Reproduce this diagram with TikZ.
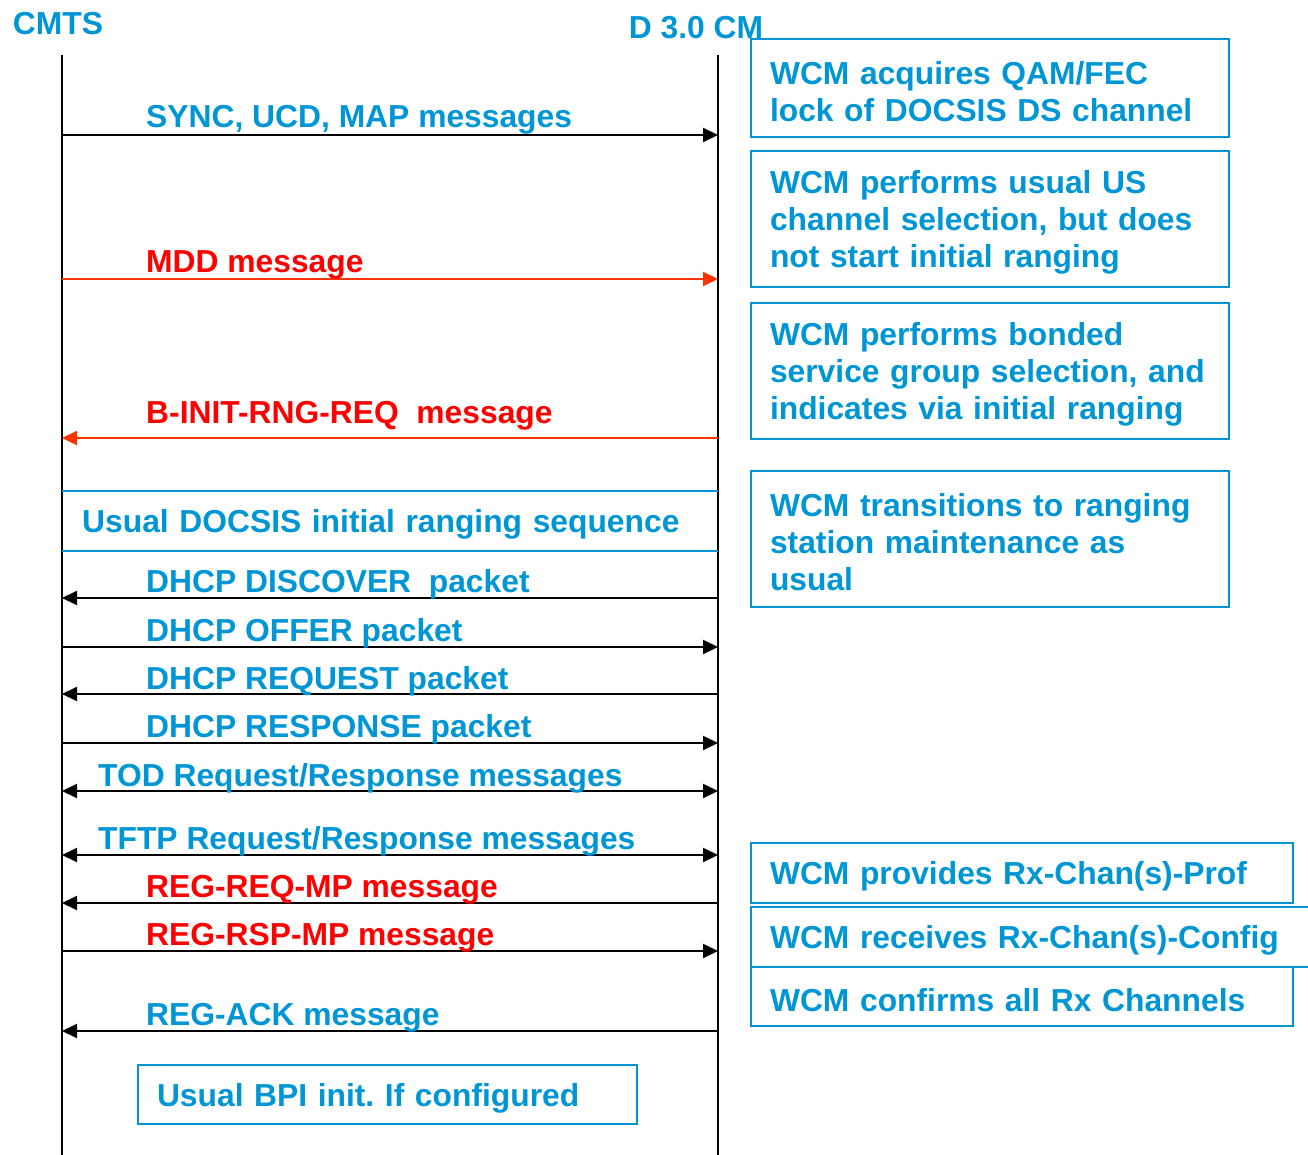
\documentclass[tikz,border=0pt]{standalone}
\usepackage{fontspec}
\setmainfont{Liberation Sans}
\usetikzlibrary{arrows.meta}
\definecolor{docblue}{RGB}{0,150,214}
\definecolor{docred}{RGB}{255,0,0}
\definecolor{arrred}{RGB}{255,51,0}
\frenchspacing
\tikzset{
  lbl/.style = {font=\bfseries\fontsize{31.8}{37}\selectfont, inner sep=0pt},
  msg_b/.style = {lbl, text=docblue, anchor=base west},% message label, blue
  msg_r/.style = {lbl, text=docred, anchor=base west},% message label, red
  life/.style = {line width=2.4pt, black},% lifeline
  wire/.style = {line width=2pt, black},
  boxtext/.style = {lbl, text=docblue, align=left, inner xsep=19pt,
    execute at begin node={\rule{0pt}{30pt}}},
  note/.style = {boxtext, draw=docblue, line width=2pt, text width=#1, anchor=west}% box at the CM side
}

\begin{document}
\begin{tikzpicture}[x=1pt, y=-1pt, >={Triangle[length=15pt,width=14pt]}]
    \useasboundingbox (0,0) rectangle (1308,1155);
    % heads and lifelines
    \node [lbl, text=docblue] (cmts) at (58,24) {CMTS};
    \node [lbl, text=docblue] (cm) at (696,28) {D 3.0 CM};
    \coordinate (cmts-top) at (62,55);
    \coordinate (cmts-bot) at (62,1155);
    \coordinate (cm-top) at (718,55);
    \coordinate (cm-bot) at (718,1155);
    \draw [life] (cmts-top) -- (cmts-bot);
    \draw [life] (cm-top) -- (cm-bot);
    % end points of the messages
    \foreach \n/\y in {sync/135, mdd/279, binit/438, disc/598, offer/647, req/694,
        resp/743, tod/791, tftp/855, regreq/903, regrsp/951, regack/1031} {
      \coordinate (\n-c) at (62,\y);
      \coordinate (\n-m) at (718,\y);
    }
    \draw [->, wire] (sync-c) -- (sync-m);
    \draw [->, wire, arrred] (mdd-c) -- (mdd-m);
    \draw [->, wire, arrred] (binit-m) -- (binit-c);
    \draw [->, wire] (disc-m) -- (disc-c);
    \draw [->, wire] (offer-c) -- (offer-m);
    \draw [->, wire] (req-m) -- (req-c);
    \draw [->, wire] (resp-c) -- (resp-m);
    \draw [<->, wire] (tod-c) -- (tod-m);
    \draw [<->, wire] (tftp-c) -- (tftp-m);
    \draw [->, wire] (regreq-m) -- (regreq-c);
    \draw [->, wire] (regrsp-c) -- (regrsp-m);
    \draw [->, wire] (regack-m) -- (regack-c);
    % message labels
    \node [msg_b] (sync-lbl) at (146,128) {SYNC, UCD, MAP messages};
    \node [msg_r] (mdd-lbl) at (146,273) {MDD message};
    \node [msg_r] (binit-lbl) at (146,423) {B-INIT-RNG-REQ\ \ message};
    \node [msg_b] (disc-lbl) at (146,592) {DHCP DISCOVER\ \ packet};
    \node [msg_b] (offer-lbl) at (146,641) {DHCP OFFER packet};
    \node [msg_b] (req-lbl) at (146,689) {DHCP REQUEST packet};
    \node [msg_b] (resp-lbl) at (146,737) {DHCP RESPONSE packet};
    \node [msg_b] (tod-lbl) at (98,786) {TOD Request/Response messages};
    \node [msg_b] (tftp-lbl) at (98,849) {TFTP Request/Response messages};
    \node [msg_r] (regreq-lbl) at (146,897) {REG-REQ-MP message};
    \node [msg_r] (regrsp-lbl) at (146,945) {REG-RSP-MP message};
    \node [msg_b] (regack-lbl) at (146,1025) {REG-ACK message};
    % ranging band
    \node [boxtext, anchor=west, inner xsep=20pt, text width=616pt,
        minimum height=60pt] (ranging) at (62,521) {Usual DOCSIS initial ranging sequence};
    \draw [docblue, line width=2pt] (ranging.north west) -- (ranging.north east);
    \draw [docblue, line width=2pt] (ranging.south west) -- (ranging.south east);
    \node [note=461pt, minimum height=59pt] (bpi) at (137,1094.5) {Usual BPI init. If configured};
    % boxes at the CM side
    \node [note=440pt, minimum height=98pt] (acq) at (750,88) {WCM acquires QAM/FEC\\lock of DOCSIS DS channel};
    \node [note=440pt, minimum height=136pt] (usch) at (750,219) {WCM performs usual US\\channel selection, but does\\not start initial ranging};
    \node [note=440pt, minimum height=136pt] (bsg) at (750,371) {WCM performs bonded\\service group selection, and\\indicates via initial ranging};
    \node [note=440pt, minimum height=136pt] (stm) at (750,539) {WCM transitions to ranging\\station maintenance as\\usual};
    \node [note=504pt, minimum height=60pt] (prof) at (750,873) {WCM provides Rx-Chan(s)-Prof};
    \node [note=540pt, minimum height=60pt] (cfg) at (750,937) {WCM receives Rx-Chan(s)-Config};
    \node [note=504pt, minimum height=59pt] (conf) at (750,996.5) {WCM confirms all Rx Channels};
\end{tikzpicture}
\end{document}
